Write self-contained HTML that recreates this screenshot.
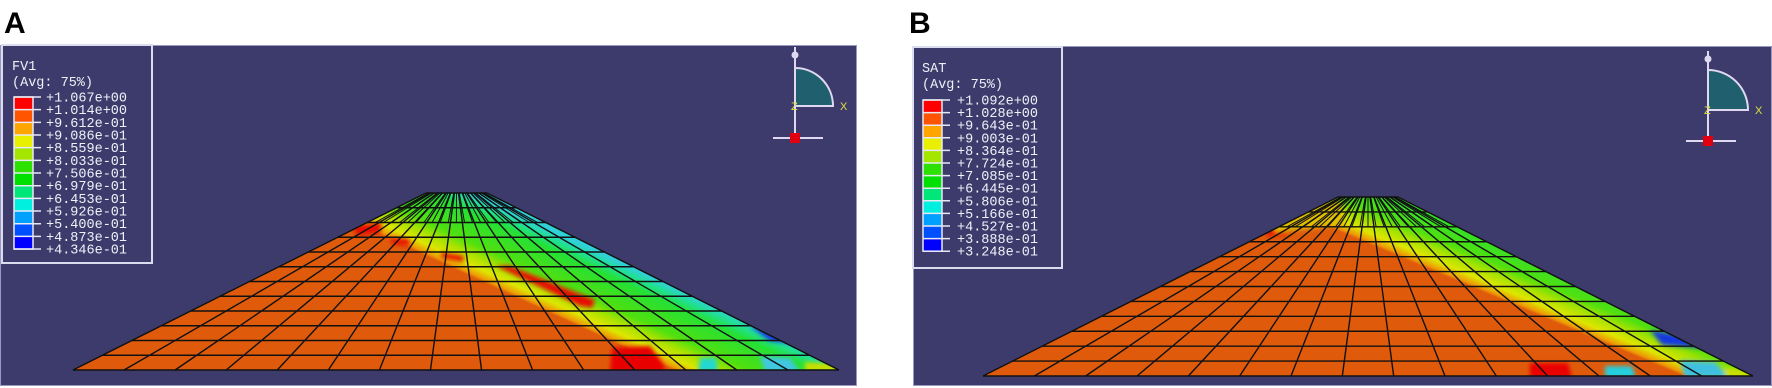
<!DOCTYPE html>
<html><head><meta charset="utf-8">
<style>
html,body{margin:0;padding:0;background:#fff;width:1772px;height:388px;overflow:hidden}
svg{display:block}
.lab{font-family:"Liberation Sans",sans-serif;font-weight:bold;font-size:30px;fill:#000}
.lg{font-family:"Liberation Mono",monospace;font-size:13.5px;fill:#f0f0f8}
</style></head><body>
<svg id="s" width="1772" height="388" viewBox="0 0 1772 388" xmlns="http://www.w3.org/2000/svg">
<defs>
<filter id="bl" x="-20%" y="-20%" width="140%" height="140%"><feGaussianBlur stdDeviation="2"/></filter>
<linearGradient id="gA" gradientUnits="userSpaceOnUse" x1="500" y1="290" x2="531.5" y2="221.8">
<stop offset="0" stop-color="#df5b0b"/><stop offset="0.04" stop-color="#ee9a05"/><stop offset="0.14" stop-color="#dde600"/><stop offset="0.28" stop-color="#a8e200"/><stop offset="0.42" stop-color="#50e010"/><stop offset="0.78" stop-color="#25e035"/><stop offset="0.9" stop-color="#20e090"/><stop offset="1" stop-color="#30d0d8"/></linearGradient>
<linearGradient id="gB" gradientUnits="userSpaceOnUse" x1="1400" y1="257" x2="1429" y2="188">
<stop offset="0" stop-color="#df5b0b"/><stop offset="0.04" stop-color="#ee9a05"/><stop offset="0.14" stop-color="#dde600"/><stop offset="0.28" stop-color="#a8e200"/><stop offset="0.42" stop-color="#50e010"/><stop offset="0.78" stop-color="#25e035"/><stop offset="0.9" stop-color="#20e090"/><stop offset="1" stop-color="#30d0d8"/></linearGradient>
<clipPath id="cA"><polygon points="426,193 487,193 839,370 73,370"/></clipPath>
<clipPath id="cB"><polygon points="1338,197 1398,197 1753,376 983,376"/></clipPath>
</defs>
<text class="lab" x="4" y="33">A</text>
<text class="lab" x="909" y="33">B</text>
<rect x="0.5" y="45.5" width="856" height="340" fill="#3d3b6b" stroke="#9a98c0" stroke-width="1"/>
<rect x="913.5" y="46.5" width="858" height="339" fill="#3d3b6b" stroke="#9a98c0" stroke-width="1"/>
<g clip-path="url(#cA)">
<rect x="60" y="180" width="800" height="200" fill="url(#gA)"/>
<g filter="url(#bl)">
<polygon points="354,226 382,222 380,233 356,236" fill="#e80a00"/>
<polygon points="391,238 409,239 410,246 392,244" fill="#e80a00"/>
<polygon points="441,252 464,256 463,262 442,258" fill="#e80a00"/>
<polygon points="496,266 510,266 595,300 592,308 580,306" fill="#e60800"/>
<polygon points="612,348 650,346 662,362 666,372 610,372" fill="#e80000"/>
<polygon points="750,326 785,330 800,344 770,341" fill="#1838e0"/>
<polygon points="700,358 716,358 718,372 698,372" fill="#20d8d0"/>
<polygon points="760,356 790,358 800,372 765,372" fill="#40c8e0"/>
<polygon points="805,362 845,364 845,372 805,372" fill="#c8e000"/>
</g>
</g>
<g clip-path="url(#cB)">
<rect x="970" y="180" width="800" height="210" fill="url(#gB)"/>
<g filter="url(#bl)">
<polygon points="1268,227 1288,226 1286,235 1266,236" fill="#e80a00"/>
<polygon points="1270,210 1340,200 1345,225 1275,232" fill="#e0c000"/>
<polygon points="1530,363 1568,363 1572,378 1530,378" fill="#e80000"/>
<polygon points="1650,330 1695,338 1702,348 1662,345" fill="#1838e0"/>
<polygon points="1605,366 1632,366 1636,378 1605,378" fill="#20d0e0"/>
<polygon points="1680,360 1715,362 1730,378 1685,378" fill="#40c0e0"/>
<polygon points="1725,368 1760,370 1760,378 1725,378" fill="#c8e000"/>
</g>
</g>
<g id="meshA" stroke="#111" stroke-width="1.4" fill="none"></g>
<g id="meshB" stroke="#111" stroke-width="1.4" fill="none"></g>
<rect x="2" y="45" width="150" height="218" fill="#3d3b6b" stroke="#dcdcf0" stroke-width="2"/>
<text class="lg" x="12" y="70">FV1</text>
<text class="lg" x="12" y="86">(Avg: 75%)</text>
<g id="legA"></g>
<rect x="913" y="47" width="149" height="221" fill="#3d3b6b" stroke="#dcdcf0" stroke-width="2"/>
<text class="lg" x="922" y="72">SAT</text>
<text class="lg" x="922" y="88">(Avg: 75%)</text>
<g id="legB"></g>
<g id="triA"></g><g id="triB"></g>
</svg>
<script>
var NS="http://www.w3.org/2000/svg";
function el(p,t,a){var e=document.createElementNS(NS,t);for(var k in a)e.setAttribute(k,a[k]);p.appendChild(e);return e;}
function mesh(id,T,Bt,tl,tr,bl,br){
 var g=document.getElementById(id);var R=12;
 for(var k=0;k<=R;k++){var f=k/R;var y=T+(Bt-T)*f;var xl=tl+(bl-tl)*f,xr=tr+(br-tr)*f;
  el(g,"line",{x1:xl,y1:y,x2:xr,y2:y});}
 var N=15;
 for(var i=0;i<=N;i++){var u=i/N;el(g,"line",{x1:tl+(tr-tl)*u,y1:T,x2:bl+(br-bl)*u,y2:Bt});}
 var M=22;var f3=2/R;var y3=T+(Bt-T)*f3;
 for(var i=1;i<M;i++){var u=i/M;var xt=tl+(tr-tl)*u;var xb=bl+(br-bl)*u;
  el(g,"line",{x1:xt,y1:T,x2:xt+(xb-xt)*f3,y2:y3,"stroke-width":1});}
}
mesh("meshA",193,370,426,487,73,839);
mesh("meshB",197,376,1338,1398,983,1753);
var cols=["#ff0000","#ff5500","#ffa500","#e8f000","#a5e600","#2ce000","#00e000","#00e678","#00f0e0","#00a0ff","#0050ff","#0000ff"];
function leg(id,x0,y0,dy,tx,labels){
 var g=document.getElementById(id);
 for(var i=0;i<12;i++)el(g,"rect",{x:x0,y:y0+i*dy,width:19,height:dy,fill:cols[i]});
 el(g,"rect",{x:x0,y:y0,width:19,height:12*dy,fill:"none",stroke:"#e8e8f4","stroke-width":1.5});
 for(var i=0;i<13;i++){var y=y0+i*dy;el(g,"line",{x1:x0,y1:y,x2:x0+27,y2:y,stroke:"#e8e8f4","stroke-width":1.5});
  var t=el(g,"text",{x:tx,y:y+4.5,"class":"lg"});t.textContent=labels[i];}
}
leg("legA",14,97,12.67,46,["+1.067e+00","+1.014e+00","+9.612e-01","+9.086e-01","+8.559e-01","+8.033e-01","+7.506e-01","+6.979e-01","+6.453e-01","+5.926e-01","+5.400e-01","+4.873e-01","+4.346e-01"]);
leg("legB",923,100,12.6,957,["+1.092e+00","+1.028e+00","+9.643e-01","+9.003e-01","+8.364e-01","+7.724e-01","+7.085e-01","+6.445e-01","+5.806e-01","+5.166e-01","+4.527e-01","+3.888e-01","+3.248e-01"]);
function tri(id,x,yd,yc,r,yr){
 var g=document.getElementById(id);
 el(g,"path",{d:"M"+x+","+(yc-r)+" A"+r+","+r+" 0 0 1 "+(x+r)+","+yc+" L"+x+","+yc+" Z",fill:"#1f5f6e",stroke:"#e0d8f0","stroke-width":2});
 el(g,"line",{x1:x,y1:yd-8,x2:x,y2:yr,stroke:"#e0d8f0","stroke-width":2});
 el(g,"line",{x1:x-22,y1:yr,x2:x+28,y2:yr,stroke:"#e0d8f0","stroke-width":2});
 el(g,"circle",{cx:x,cy:yd,r:3.5,fill:"#e0d8f0"});
 el(g,"rect",{x:x-5,y:yr-5,width:10,height:10,fill:"#e00010"});
 var t=el(g,"text",{x:x-4,y:yc+4,fill:"#e0e040","font-family":"Liberation Sans,sans-serif","font-size":"11"});t.textContent="Z";
 t=el(g,"text",{x:x+r+7,y:yc+4,fill:"#e0e040","font-family":"Liberation Sans,sans-serif","font-size":"11"});t.textContent="X";
}
tri("triA",795,55,106,38,138);
tri("triB",1708,59,110,40,141);
</script>
</body></html>
